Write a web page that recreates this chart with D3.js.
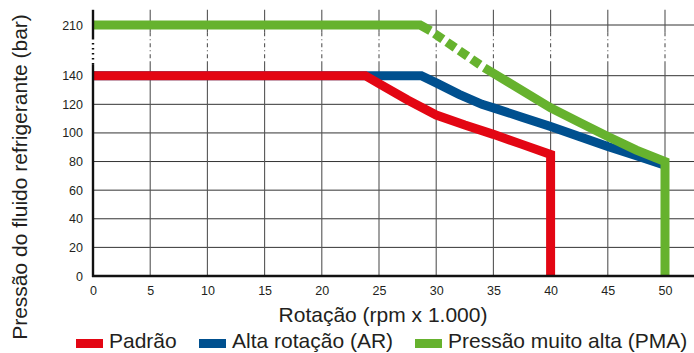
<!DOCTYPE html>
<html>
<head>
<meta charset="utf-8">
<script src="https://cdn.jsdelivr.net/npm/d3@7"></script>
<style>
  body { margin: 0; background: #fff; }
  svg { display: block; font-family: "Liberation Sans", Arial, sans-serif; }
</style>
</head>
<body>
<svg id="chart" width="694" height="353"></svg>
<script>
// tick values
const xTicks = [0, 5, 10, 15, 20, 25, 30, 35, 40, 45, 50];
const yTicks = [0, 20, 40, 60, 80, 100, 120, 140, 210];

// Padrão (red)
const padraoRot = [0, 23.8, 25, 27.5, 30, 32.5, 35, 37.5, 40, 40];
const padraoBar = [140, 140, 134.5, 123, 112.5, 105.5, 99, 92, 85, 0];

// Alta rotação (blue)
const arRot = [0, 28.7, 30, 32, 34, 35, 37.5, 40, 42.5, 45, 47.5, 50];
const arBar = [140, 140, 135, 127, 120, 117.5, 111, 104.5, 97.5, 90.5, 84, 77.5];

// Pressão muito alta (green), points 2..3 are the dashed part
const pmaRot = [0, 28.6, 29.5, 34.2, 40, 42.5, 45, 47.5, 50, 50];
const pmaBar = [210, 210, 202, 151, 117.5, 107.5, 97.5, 88, 80, 0];
const pmaDash = [2, 3];

const legendNames = ["Padrão", "Alta rotação (AR)", "Pressão muito alta (PMA)"];
const colors = ["#e30613", "#00508f", "#66b22e"];

const svg = d3.select("#chart");
const W = 694;

const x = d3.scaleLinear().domain([0, 50]).range([93, 665]);
const y = d3.scaleLinear().domain([0, 140, 210]).range([276, 75.7, 25]);

// axis break region (bar)
const breakLo = 160, breakHi = 200;
const topVal = 231;

const grid = svg.append("g");

// horizontal grid
grid.selectAll(".h")
    .data(yTicks.filter(d => d > 0))
    .enter().append("line")
    .attr("x1", x(0)).attr("x2", W)
    .attr("y1", d => y(d)).attr("y2", d => y(d))
    .attr("stroke", "#333").attr("stroke-width", 1);

// vertical grid, broken between breakLo and breakHi
const vx = xTicks.filter(d => d > 0);
grid.selectAll(".v1").data(vx).enter().append("line")
    .attr("x1", d => x(d)).attr("x2", d => x(d))
    .attr("y1", y(topVal)).attr("y2", y(breakHi))
    .attr("stroke", "#555").attr("stroke-width", 1.1);
grid.selectAll(".v2").data(vx).enter().append("line")
    .attr("x1", d => x(d)).attr("x2", d => x(d))
    .attr("y1", y(breakHi)).attr("y2", y(breakLo))
    .attr("stroke", "#555").attr("stroke-width", 1.1)
    .attr("stroke-dasharray", "4,3,1,3");
grid.selectAll(".v3").data(vx).enter().append("line")
    .attr("x1", d => x(d)).attr("x2", d => x(d))
    .attr("y1", y(breakLo)).attr("y2", y(0))
    .attr("stroke", "#555").attr("stroke-width", 1.1);

// series
const line = d3.line().x(d => x(d[0])).y(d => y(d[1]));
const pts = (r, b) => r.map((v, i) => [v, b[i]]);

const ar = pts(arRot, arBar);
const padrao = pts(padraoRot, padraoBar);
const pma = pts(pmaRot, pmaBar);

svg.append("path").attr("d", line(ar))
   .attr("fill", "none").attr("stroke", colors[1]).attr("stroke-width", 9);

svg.append("path").attr("d", line(pma.slice(0, pmaDash[0] + 1)))
   .attr("fill", "none").attr("stroke", colors[2]).attr("stroke-width", 9);
svg.append("path").attr("d", line(pma.slice(pmaDash[0], pmaDash[1] + 1)))
   .attr("fill", "none").attr("stroke", colors[2]).attr("stroke-width", 9)
   .attr("stroke-dasharray", "0,5,10,5,10,5,10,5,10,5");
svg.append("path").attr("d", line(pma.slice(pmaDash[1])))
   .attr("fill", "none").attr("stroke", colors[2]).attr("stroke-width", 9);

svg.append("path").attr("d", line(padrao))
   .attr("fill", "none").attr("stroke", colors[0]).attr("stroke-width", 9);

// axes lines
svg.append("line")
   .attr("x1", x(0)).attr("x2", x(0))
   .attr("y1", y(topVal)).attr("y2", y(192))
   .attr("stroke", "#111").attr("stroke-width", 2.4);
svg.append("line")
   .attr("x1", x(0)).attr("x2", x(0))
   .attr("y1", y(192)).attr("y2", y(156))
   .attr("stroke", "#111").attr("stroke-width", 2.4)
   .attr("stroke-dasharray", "1.5,3.5");
svg.append("line")
   .attr("x1", x(0)).attr("x2", x(0))
   .attr("y1", y(156)).attr("y2", y(0) + 1)
   .attr("stroke", "#111").attr("stroke-width", 2.4);
svg.append("line")
   .attr("x1", x(0) - 1).attr("x2", W)
   .attr("y1", y(0)).attr("y2", y(0))
   .attr("stroke", "#111").attr("stroke-width", 2.6);

// tick labels
const yAxis = d3.axisLeft(y).tickValues(yTicks).tickSize(0).tickPadding(10);
const gy = svg.append("g").attr("transform", `translate(${x(0)},0)`).call(yAxis);
const xAxis = d3.axisBottom(x).tickValues(xTicks).tickSize(0).tickPadding(10);
const gx = svg.append("g").attr("transform", `translate(0,${y(0)})`).call(xAxis);
[gx, gy].forEach(g => {
  g.select(".domain").remove();
  g.selectAll("text").attr("fill", "#231f20")
   .style("font-size", "12.5px")
   .style("font-family", "'Liberation Sans', Arial, sans-serif");
});

// axis titles
svg.append("text")
   .attr("x", 383).attr("y", 322)
   .attr("text-anchor", "middle")
   .attr("fill", "#231f20")
   .style("font-size", "21px")
   .text("Rotação (rpm x 1.000)");

svg.append("text")
   .attr("transform", "translate(27,177) rotate(-90)")
   .attr("text-anchor", "middle")
   .attr("fill", "#231f20")
   .style("font-size", "21px")
   .text("Pressão do fluido refrigerante (bar)");

// legend
const legX = [76, 199, 415];
const legend = svg.append("g");
legendNames.forEach((name, i) => {
  legend.append("rect")
        .attr("x", legX[i]).attr("y", 339)
        .attr("width", 27).attr("height", 9)
        .attr("fill", colors[i]);
  legend.append("text")
        .attr("x", legX[i] + 33).attr("y", 348)
        .attr("fill", "#231f20")
        .style("font-size", "21px")
        .text(name);
});
</script>
</body>
</html>
